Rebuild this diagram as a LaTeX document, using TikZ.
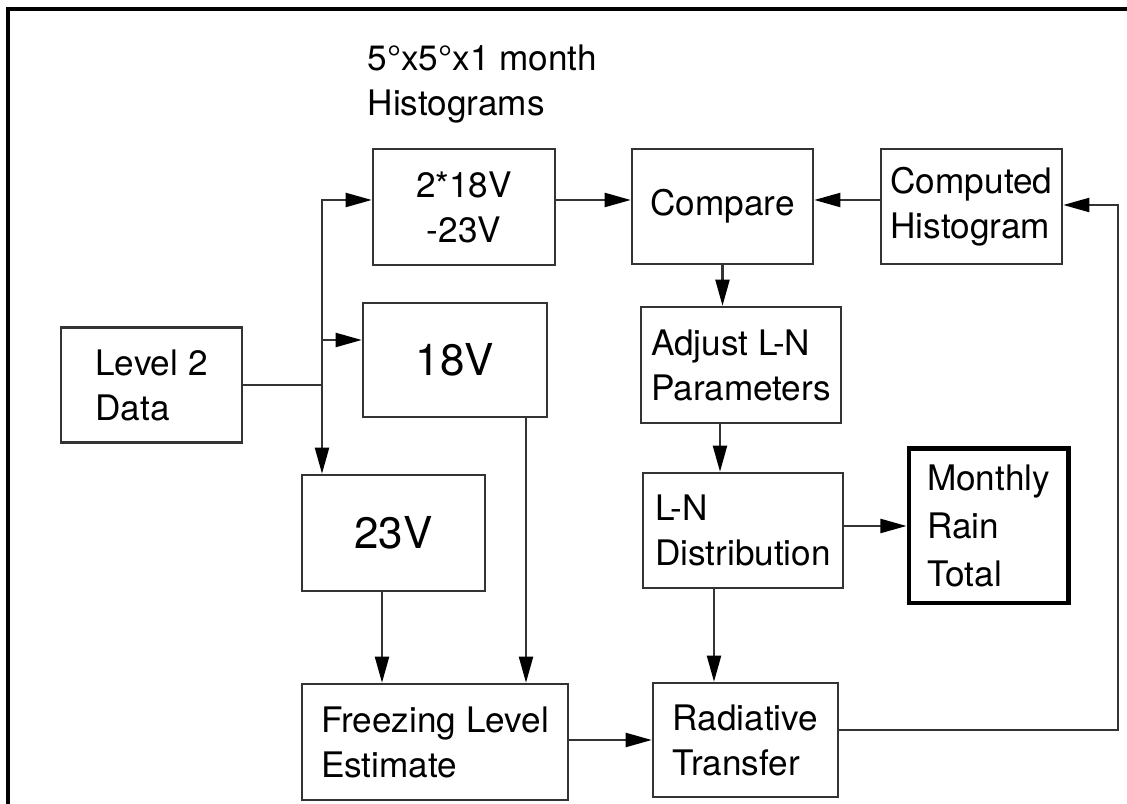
\documentclass[tikz,border=0pt]{standalone}
\usepackage{fontspec}
\setmainfont{TeX Gyre Heros}
\usepackage{tikz}
\usetikzlibrary{arrows.meta,calc}
\definecolor{boxgray}{HTML}{333333}

\begin{document}
\begin{tikzpicture}[
			x=0.01cm,y=-0.01cm,
			blk/.style={draw=boxgray,line width=0.7pt,inner sep=0pt,align=left,font=\fontsize{10}{12.8}\selectfont},
			big/.style={blk,font=\fontsize{12.5}{15}\selectfont},
			tot/.style={blk,draw=black,line width=1.4pt,font=\fontsize{10}{13.6}\selectfont},
			arr/.style={-{Triangle[length=2.6mm,width=1.4mm,color=black]},line width=0.6pt,boxgray}
			]
			\clip (0,0) rectangle (1127,804);
			\draw[line width=1.2pt] (8,9) rectangle (1200,900);
			% left column
			\node[blk,minimum width=1.81cm,minimum height=1.15cm] (lvl) at (151.5,385) {Level 2\\Data};
			\node[blk,align=center,minimum width=1.82cm,minimum height=1.16cm] (comb) at (464,207) {2*18V\\-23V};
			\node[big,minimum width=1.84cm,minimum height=1.14cm] (v18) at (455,360) {18V};
			\node[big,minimum width=1.83cm,minimum height=1.16cm] (v23) at (393.5,533) {23V};
			\node[blk,minimum width=2.66cm,minimum height=1.16cm] (frz) at (435,742) {Freezing Level\\Estimate};
			% right column
			\node[blk,minimum width=1.81cm,minimum height=1.15cm] (cmp) at (722.5,206.5) {Compare};
			\node[blk,minimum width=1.81cm,minimum height=1.15cm] (hist) at (971.5,206.5) {Computed\\Histogram};
			\node[blk,minimum width=2.00cm,minimum height=1.16cm] (adj) at (741,365) {Adjust L-N\\Parameters};
			\node[blk,minimum width=2.00cm,minimum height=1.15cm] (lnd) at (743,530.5) {L-N\\Distribution};
			\node[tot,minimum width=1.59cm,minimum height=1.54cm] (rain) at (988.5,526) {Monthly\\Rain\\Total};
			\node[blk,minimum width=1.85cm,minimum height=1.14cm] (rad) at (745.5,740) {Radiative\\Transfer};
			\node[anchor=north west,inner sep=0pt,align=left,font=\fontsize{10}{12.8}\selectfont] (lbl) at (367,44) {5°x5°x1 month\\Histograms};
			% helper coordinates
			\coordinate (j) at (322,385);
			\coordinate (ya) at (0,200);
			\coordinate (yb) at (0,340);
			\coordinate (yc) at (0,205);
			\coordinate (xa) at (720,0);
			\coordinate (xb) at (714,0);
			\coordinate (xc) at (382,0);
			\coordinate (xd) at (526,0);
			\coordinate (fb) at (1118,730);
			% connectors
			\draw[boxgray,line width=0.6pt] (lvl.east) -- (j);
			\draw[arr] (j) |- (comb.west |- ya);
			\draw[arr] (j |- yb) -- (v18.west |- yb);
			\draw[arr] (j) -- (j |- v23.north);
			\draw[arr] (comb.east |- ya) -- (cmp.west |- ya);
			\draw[arr] (hist.west |- ya) -- (cmp.east |- ya);
			\draw[arr] (cmp.south) -- (cmp.south |- adj.north);
			\draw[arr] (xa |- adj.south) -- (xa |- lnd.north);
			\draw[arr] (xb |- lnd.south) -- (xb |- rad.north);
			\draw[arr] (lnd.east |- rain) -- (rain.west);
			\draw[arr] (xc |- v23.south) -- (xc |- frz.north);
			\draw[arr] (xd |- v18.south) -- (xd |- frz.north);
			\draw[arr] (frz.east |- rad) -- (rad.west);
			\draw[arr] (rad.east |- fb) -- (fb) |- (hist.east |- yc);
		\end{tikzpicture}
\end{document}
